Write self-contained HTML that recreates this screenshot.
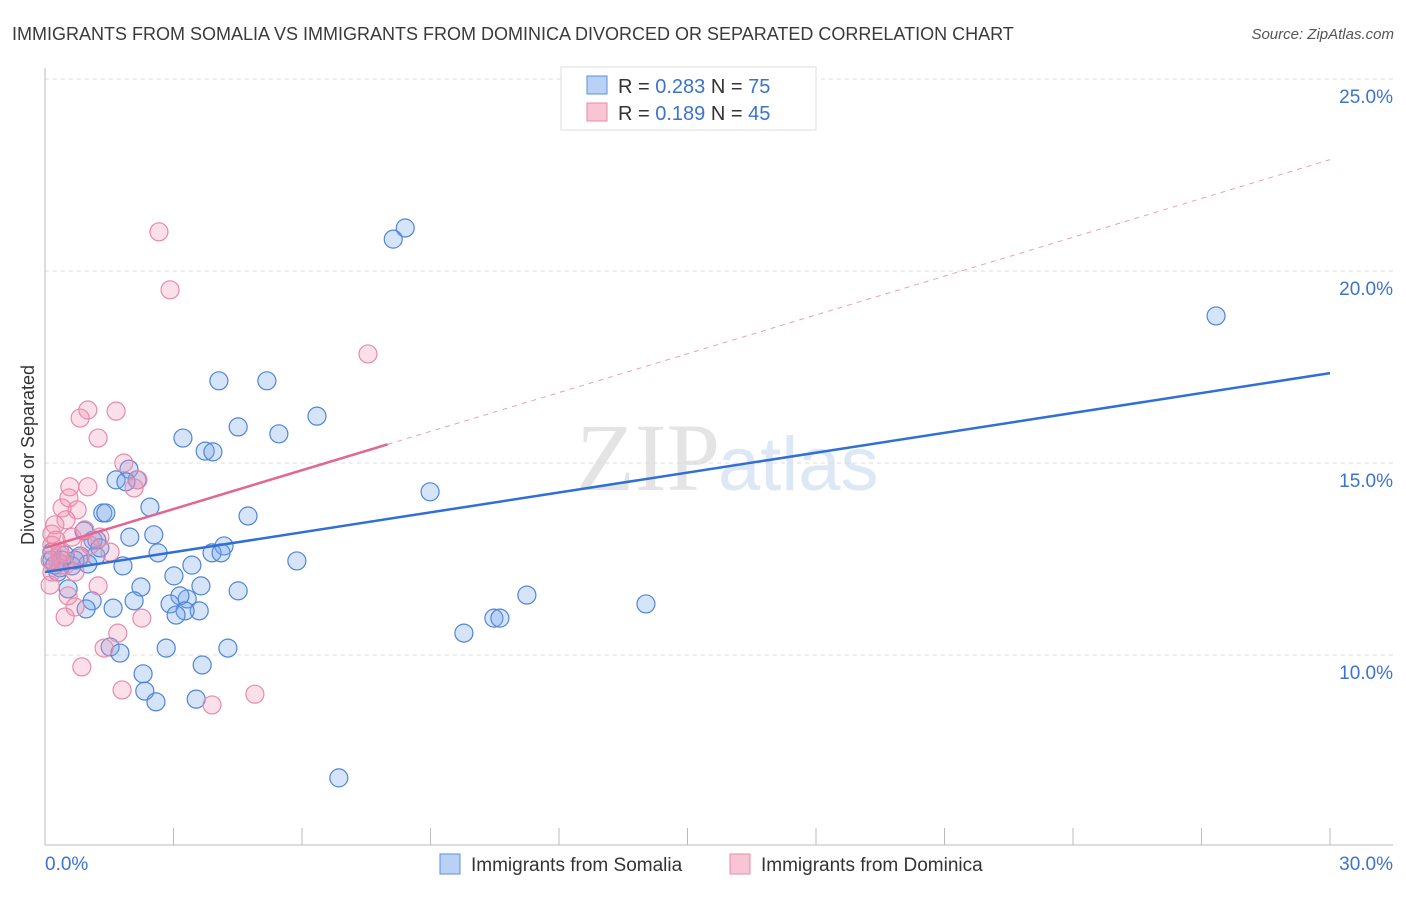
<!DOCTYPE html>
<html><head><meta charset="utf-8"><style>
body{margin:0;background:#fff;font-family:"Liberation Sans",sans-serif;}
</style></head><body>
<svg id="c" width="1406" height="892" xmlns="http://www.w3.org/2000/svg" style="font-family:'Liberation Sans',sans-serif">
<text x="12" y="40" font-size="18" fill="#3a3a3a">IMMIGRANTS FROM SOMALIA VS IMMIGRANTS FROM DOMINICA DIVORCED OR SEPARATED CORRELATION CHART</text>
<text x="1394" y="39" font-size="15" fill="#555" font-style="italic" text-anchor="end">Source: ZipAtlas.com</text>
<text x="720" y="490" font-size="96" fill="#e4e4e4" text-anchor="end" font-family="Liberation Serif">ZIP</text>
<text x="718" y="490" font-size="76" fill="#dde8f6">atlas</text>
<g id="grid"></g><g id="axes"></g><g id="pts"></g><g id="trend"></g>
<g>
<rect x="561" y="67" width="255" height="63" fill="#fff" stroke="#ddd"/>
<rect x="587" y="76" width="20" height="18" fill="#b8d1f5" stroke="#5b8fdc"/>
<text x="618" y="93" font-size="20" fill="#333">R = <tspan fill="#3b73d1">0.283</tspan>   N = <tspan fill="#3b73d1">75</tspan></text>
<rect x="587" y="103" width="20" height="18" fill="#f8c5d5" stroke="#e88aa8"/>
<text x="618" y="120" font-size="20" fill="#333">R =  <tspan fill="#3b73d1">0.189</tspan>   N = <tspan fill="#3b73d1">45</tspan></text>
</g>
<g>
<rect x="440" y="854" width="20" height="20" fill="#b8d1f5" stroke="#5b8fdc"/>
<text x="471" y="871" font-size="19" fill="#333">Immigrants from Somalia</text>
<rect x="730" y="854" width="20" height="20" fill="#f8c5d5" stroke="#e88aa8"/>
<text x="761" y="871" font-size="19" fill="#333">Immigrants from Dominica</text>
</g>
<text x="34" y="455" font-size="18" fill="#333" text-anchor="middle" transform="rotate(-90 34 455)">Divorced or Separated</text>
</svg>
<script>
const yTicks=[10,15,20,25];
const yTickLabels=["10.0%","15.0%","20.0%","25.0%"];
const xTicks=[0,3,6,9,12,15,18,21,24,27,30];
const somaliaX=[8.41,8.13,27.34,4.06,5.18,6.35,4.51,3.22,5.46,3.74,3.92,1.96,1.66,2.15,1.89,8.99,2.45,1.35,1.42,4.74,0.91,1.98,2.54,1.12,1.21,4.18,2.64,3.90,4.11,0.16,0.82,1.19,5.88,1.82,3.43,0.63,0.35,3.01,3.64,2.24,4.51,0.54,11.25,3.32,3.15,1.10,2.08,14.03,2.92,1.59,0.96,3.60,3.27,3.06,10.48,10.62,9.78,1.52,2.83,4.27,1.75,3.67,2.29,2.33,3.53,2.59,6.86,0.16,0.30,0.40,1.00,0.70,0.23,0.47,1.28];
const somaliaY=[21.12,20.83,18.83,17.14,17.14,16.22,15.94,15.65,15.76,15.31,15.29,14.84,14.56,14.56,14.51,14.25,13.85,13.70,13.70,13.62,13.23,13.07,13.13,12.99,12.99,12.84,12.66,12.66,12.66,12.68,12.58,12.58,12.45,12.32,12.34,12.32,12.27,12.06,11.80,11.77,11.67,11.72,11.56,11.46,11.54,11.41,11.41,11.33,11.33,11.22,11.20,11.15,11.15,11.04,10.96,10.96,10.57,10.21,10.18,10.18,10.05,9.74,9.51,9.06,8.85,8.78,6.80,12.47,12.16,12.47,12.37,12.47,12.34,12.60,12.79];
const dominicaX=[2.66,2.92,7.54,1.66,1.00,0.82,1.24,1.84,2.17,2.08,1.00,0.58,0.56,0.40,0.75,0.49,0.23,0.16,0.63,1.28,1.52,0.26,0.16,0.35,0.82,0.47,0.16,0.70,0.12,1.24,0.54,0.70,0.47,2.26,1.70,1.38,0.86,1.80,4.90,3.90,0.35,0.30,1.05,0.12,0.93];
const dominicaY=[21.02,19.51,17.84,16.35,16.38,16.17,15.65,15.00,14.56,14.35,14.38,14.38,14.09,13.83,13.78,13.52,13.39,13.15,13.07,13.07,12.68,12.99,12.86,12.68,12.53,12.34,12.16,12.16,11.82,11.80,11.54,11.25,10.99,10.96,10.57,10.18,9.69,9.09,8.98,8.70,12.60,12.42,12.86,12.47,13.26];
const somaliaTrend=[12.16,17.34];
const dominicaTrend=[12.79,22.9];
const NS="http://www.w3.org/2000/svg";
const sx=v=>45+v*(1285/30);
const sy=v=>655-(v-10)*38.4;
function mk(tag,attrs,parent){const e=document.createElementNS(NS,tag);for(const k in attrs)e.setAttribute(k,attrs[k]);document.getElementById(parent).appendChild(e);return e;}
yTicks.forEach((t,i)=>{
 const l=mk('line',{x1:45,x2:1393,y1:sy(t),y2:sy(t),stroke:'#ddd','stroke-dasharray':'4,4'},'grid');
 
 
 const tx=mk('text',{x:1393,y:sy(t)+24,'font-size':19,fill:'#3b73d1','text-anchor':'end'},'grid');
 tx.textContent=yTickLabels[i];
 
 
});
const ax=mk('line',{x1:45,x2:45,y1:68,y2:845,stroke:'#bbb'},'axes');


const bx=mk('line',{x1:45,x2:1393,y1:845,y2:845,stroke:'#bbb'},'axes');


xTicks.forEach(t=>{const l=mk('line',{x1:sx(t),x2:sx(t),y1:828,y2:845,stroke:'#bbb'},'axes');
 
 });
const x0=mk('text',{x:45,y:870,'font-size':19,fill:'#3b73d1'},'axes');x0.textContent='0.0%';


const x1=mk('text',{x:1393,y:870,'font-size':19,fill:'#3b73d1','text-anchor':'end'},'axes');x1.textContent='30.0%';


function pts(X,Y,fill,stroke,name){X.forEach((x,i)=>{const c=mk('circle',{cx:sx(x),cy:sy(Y[i]),r:9,fill:fill,stroke:stroke,'stroke-width':1.2},'pts');
 
 });}
pts(somaliaX,somaliaY,'rgba(120,165,235,0.3)','#4f85d8','somalia-point');
pts(dominicaX,dominicaY,'rgba(242,150,182,0.3)','#e88aa8','dominica-point');
const t1=mk('line',{x1:sx(0),y1:sy(somaliaTrend[0]),x2:sx(30),y2:sy(somaliaTrend[1]),stroke:'#2f6fd6','stroke-width':2.5},'trend');


const py=x=>dominicaTrend[0]+(dominicaTrend[1]-dominicaTrend[0])*x/30;
const t2=mk('line',{x1:sx(0),y1:sy(py(0)),x2:sx(8),y2:sy(py(8)),stroke:'#e2668f','stroke-width':2.5},'trend');


const t3=mk('line',{x1:sx(8),y1:sy(py(8)),x2:sx(30),y2:sy(py(30)),stroke:'#eaa0b8','stroke-width':1,'stroke-dasharray':'5,5'},'trend');


</script>
</body></html>
